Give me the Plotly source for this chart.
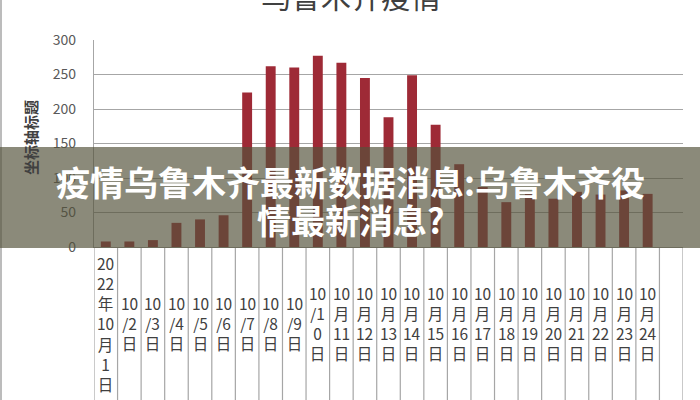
import plotly.graph_objects as go

title_text = "乌鲁木齐疫情"
y_title = "坐标轴标题"
banner_lines = ["疫情乌鲁木齐最新数据消息:乌鲁木齐役", "情最新消息?"]

categories = (
    ["20<br>22<br>年<br>10<br>月<br>1<br>日"]
    + [f"10<br>/{d}<br>日" for d in range(2, 10)]
    + ["10<br>/1<br>0<br>日"]
    + [f"10<br>月<br>{d}<br>日" for d in range(11, 25)]
)
values = [8, 8, 10, 35, 40, 46, 224, 262, 260, 277, 267, 245, 188, 249, 177,
          120, 87, 65, 77, 70, 80, 76, 82, 77]
y_ticks = [0, 50, 100, 150, 200, 250, 300]

FONT = "Noto Sans CJK SC"
W, H = 700, 400
L, R, T, B = 94, 17, 40, 153
pw, ph = W - L - R, H - T - B

def px_x(p):
    return (p - L) / pw

def px_y(p):
    return (H - B - p) / ph

n_cols = len(categories) + 1

fig = go.Figure()
fig.add_trace(go.Bar(
    x=list(range(len(categories))), y=values,
    marker=dict(color="#9E2A36", line=dict(width=0)),
    width=0.42,
))

shapes = []
for i in range(n_cols + 1):
    shapes.append(dict(type="line", xref="x", yref="paper",
                       x0=i - 0.5, x1=i - 0.5, y0=0, y1=px_y(402),
                       line=dict(color="#A6A6A6", width=1.2), layer="below"))
shapes.append(dict(type="line", xref="paper", yref="paper",
                   x0=px_x(1), x1=px_x(1), y0=px_y(402), y1=px_y(-2),
                   line=dict(color="#A6A6A6", width=1.5), layer="below"))
shapes.append(dict(type="rect", xref="paper", yref="paper",
                   x0=px_x(-2), x1=px_x(702), y0=px_y(248), y1=px_y(147),
                   fillcolor="rgba(84,83,59,0.68)", line=dict(width=0), layer="above"))

annotations = []
for i, lab in enumerate(categories):
    annotations.append(dict(x=i, y=px_y(323), xref="x", yref="paper",
                            text=lab, showarrow=False, yanchor="middle",
                            xanchor="center", align="center",
                            font=dict(family=FONT, size=15.5, color="#404040")))
annotations.append(dict(x=px_x(351), y=px_y(-5), xref="paper", yref="paper",
                        text=title_text, showarrow=False, yanchor="middle",
                        font=dict(family=FONT, size=30, color="#404040")))
annotations.append(dict(x=px_x(30), y=px_y(138), xref="paper", yref="paper",
                        text=f"<b>{y_title}</b>", showarrow=False, textangle=-90,
                        xanchor="center", yanchor="middle",
                        font=dict(family=FONT, size=15, color="#404040")))
for line, yc in zip(banner_lines, [181, 219]):
    annotations.append(dict(x=px_x(350), y=px_y(yc), xref="paper", yref="paper",
                            text=f"<b>{line}</b>", showarrow=False,
                            xanchor="center", yanchor="middle",
                            font=dict(family=FONT, size=34, color="white")))

fig.update_layout(
    width=W, height=H,
    margin=dict(l=L, r=R, t=T, b=B, pad=0),
    paper_bgcolor="white", plot_bgcolor="white",
    showlegend=False,
    xaxis=dict(range=[-0.5, n_cols - 0.5], showticklabels=False, showgrid=False,
               zeroline=False, showline=True, linecolor="#A6A6A6", linewidth=1.2,
               fixedrange=True),
    yaxis=dict(range=[0, 300], tickvals=y_ticks, showgrid=True,
               gridcolor="#A6A6A6", gridwidth=1.2, zeroline=False,
               showline=True, linecolor="#A6A6A6", linewidth=1.2,
               ticks="", ticklabelstandoff=14,
               tickfont=dict(family=FONT, size=14, color="#595959")),
    shapes=shapes,
    annotations=annotations,
)

fig.write_html("out.html", config={"displayModeBar": False},
               post_script="document.body.style.margin='0';")
